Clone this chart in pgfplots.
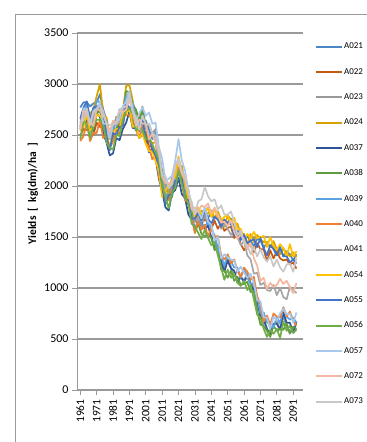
\documentclass[border=0pt]{standalone}
\usepackage{pgfplots}
\usepackage{pgfplotstable}
\pgfplotsset{compat=1.18}
\usepackage{fontspec}
\setmainfont{Carlito}
\definecolor{cA021}{HTML}{4A86C5}
\definecolor{cA022}{HTML}{C55A11}
\definecolor{cA023}{HTML}{999999}
\definecolor{cA024}{HTML}{D6A200}
\definecolor{cA037}{HTML}{2F5597}
\definecolor{cA038}{HTML}{5E9C3E}
\definecolor{cA039}{HTML}{5BA3E0}
\definecolor{cA040}{HTML}{F08030}
\definecolor{cA041}{HTML}{A5A5A5}
\definecolor{cA054}{HTML}{FFC000}
\definecolor{cA055}{HTML}{4472C4}
\definecolor{cA056}{HTML}{70AD47}
\definecolor{cA057}{HTML}{A9C8EC}
\definecolor{cA072}{HTML}{F4B7A0}
\definecolor{cA073}{HTML}{C8C8C8}
\definecolor{gridc}{HTML}{9A9A9A}
\pgfplotstableread{
yr A021 A022 A023 A024 A037 A038 A039 A040 A041 A054 A055 A056 A057 A072 A073
1961 2770 2490 2650 2560 2580 2580 2620 2440 2590 2540 2660 2460 2560 2550 2640
1963 2820 2560 2660 2750 2610 2600 2700 2490 2730 2580 2770 2640 2760 2740 2640
1965 2820 2550 2730 2730 2650 2710 2800 2620 2660 2700 2830 2600 2750 2710 2760
1967 2780 2540 2530 2710 2570 2550 2660 2440 2660 2540 2650 2470 2600 2630 2610
1969 2810 2500 2680 2750 2540 2550 2660 2520 2630 2580 2770 2590 2740 2590 2720
1971 2820 2620 2690 2880 2710 2710 2840 2520 2790 2700 2780 2650 2750 2760 2750
1973 2900 2580 2810 3000 2680 2740 2820 2650 2780 2690 2770 2650 2820 2740 2790
1975 2750 2560 2640 2710 2510 2560 2720 2470 2660 2640 2710 2610 2610 2700 2730
1977 2650 2460 2600 2670 2430 2640 2530 2500 2630 2500 2490 2430 2610 2610 2610
1979 2470 2460 2550 2480 2300 2480 2520 2370 2470 2380 2350 2370 2460 2530 2600
1981 2630 2480 2550 2520 2320 2580 2530 2440 2620 2530 2520 2360 2610 2640 2600
1983 2620 2530 2680 2660 2470 2550 2660 2530 2600 2560 2500 2500 2610 2620 2620
1985 2750 2620 2660 2700 2450 2690 2660 2510 2620 2560 2580 2490 2660 2750 2750
1987 2760 2610 2690 2740 2560 2710 2730 2660 2750 2710 2580 2650 2780 2720 2770
1989 2860 2790 2860 2980 2620 2930 2880 2700 2770 2710 2810 2740 2830 2750 2780
1991 2920 2740 2870 2990 2730 2920 2830 2690 2740 2760 2770 2760 2930 2850 2900
1993 2750 2610 2720 2840 2570 2800 2810 2670 2740 2580 2750 2700 2760 2730 2730
1995 2740 2600 2730 2660 2560 2750 2650 2560 2580 2580 2610 2540 2640 2590 2670
1997 2630 2540 2650 2710 2470 2640 2580 2470 2570 2470 2570 2580 2710 2650 2550
1999 2630 2520 2780 2630 2500 2740 2690 2600 2520 2510 2640 2540 2770 2610 2690
2001 2640 2530 2590 2580 2470 2570 2590 2420 2600 2410 2460 2460 2690 2610 2600
2003 2550 2390 2610 2460 2330 2470 2470 2380 2470 2340 2470 2470 2720 2460 2610
2005 2460 2380 2510 2420 2370 2510 2530 2260 2510 2340 2360 2410 2610 2510 2520
2007 2530 2270 2560 2430 2270 2460 2430 2320 2430 2240 2300 2330 2620 2420 2490
2009 2290 2190 2340 2190 2070 2240 2290 2090 2260 2150 2210 2260 2380 2330 2360
2011 2130 1940 2150 2080 1950 2150 2020 1980 2110 1890 2000 2000 2270 2090 2100
2013 1880 2010 2040 1980 1790 1910 1930 1890 1970 1960 1820 1890 2050 2030 2100
2015 1930 1920 1930 1910 1760 1900 1870 1860 2010 2000 1910 1780 2070 2030 1980
2017 1940 1990 2080 2060 1930 1890 2020 1970 2010 2050 1920 1940 2100 2030 2020
2019 2120 2130 2110 2140 1960 2080 2070 2000 2080 2100 2050 1980 2250 2210 2200
2021 2160 2150 2170 2180 2080 2110 2170 2170 2250 2290 2060 2150 2460 2230 2270
2023 2080 2150 2170 2200 1920 2110 2130 2020 2150 2140 2070 2020 2250 2120 2140
2025 1990 1950 2020 2000 1880 1930 1930 1860 1970 2040 1880 1890 2150 2070 2110
2027 1820 1820 1870 1930 1720 1830 1910 1840 1970 1860 1860 1830 1950 1950 1940
2029 1770 1770 1840 1720 1670 1740 1710 1690 1770 1820 1680 1630 1790 1770 1840
2031 1680 1660 1650 1740 1600 1540 1570 1540 1720 1690 1680 1600 1750 1790 1720
2033 1670 1630 1700 1700 1620 1630 1670 1660 1660 1790 1740 1540 1750 1750 1850
2035 1730 1710 1600 1760 1640 1530 1630 1570 1750 1720 1660 1480 1680 1810 1870
2037 1740 1660 1720 1740 1580 1510 1600 1620 1730 1750 1760 1570 1790 1790 1990
2039 1680 1680 1610 1730 1610 1530 1650 1500 1790 1780 1680 1490 1650 1830 1900
2041 1760 1580 1610 1760 1500 1490 1570 1590 1700 1700 1630 1420 1620 1730 1850
2043 1680 1660 1480 1680 1400 1370 1520 1490 1680 1770 1700 1450 1470 1790 1870
2045 1700 1580 1400 1750 1420 1400 1380 1510 1700 1690 1670 1320 1500 1720 1770
2047 1600 1640 1290 1670 1250 1180 1320 1320 1580 1650 1600 1200 1290 1640 1810
2049 1670 1560 1180 1600 1160 1170 1220 1280 1630 1700 1670 1080 1330 1650 1720
2051 1640 1590 1290 1710 1270 1100 1320 1330 1580 1710 1630 1180 1300 1610 1720
2053 1680 1600 1210 1670 1190 1170 1260 1240 1520 1630 1630 1100 1280 1660 1750
2055 1590 1490 1120 1570 1170 1070 1200 1280 1560 1690 1510 1140 1270 1550 1650
2057 1550 1530 1170 1630 1050 1110 1200 1170 1500 1580 1560 1050 1160 1480 1520
2059 1560 1430 1110 1530 1110 1030 1100 1110 1420 1580 1470 1020 1210 1530 1560
2061 1460 1370 1070 1530 1060 1040 1190 1200 1460 1470 1520 1070 1150 1470 1440
2063 1510 1420 1150 1420 1120 1060 1100 1160 1320 1530 1440 980 1100 1380 1420
2065 1460 1420 1050 1530 1040 960 1040 1080 1280 1490 1460 1030 1140 1440 1330
2067 1410 1350 1010 1450 970 970 1050 1110 1140 1550 1480 890 1050 1290 1400
2069 1480 1440 810 1520 890 780 910 920 1150 1490 1400 740 880 1220 1310
2071 1470 1380 790 1480 710 640 750 840 1030 1500 1490 710 870 1070 1380
2073 1390 1380 640 1450 700 630 760 670 1050 1510 1390 600 710 1100 1300
2075 1450 1260 690 1450 600 580 660 730 980 1400 1320 520 710 990 1260
2077 1400 1370 610 1400 540 520 660 640 970 1500 1420 590 600 1050 1310
2079 1410 1290 630 1460 650 630 610 750 1030 1410 1380 550 720 1010 1210
2081 1320 1360 680 1380 650 580 720 720 930 1370 1320 600 680 1030 1280
2083 1390 1290 590 1330 590 600 650 710 1000 1430 1400 510 750 1090 1200
2085 1310 1270 730 1390 760 590 810 810 910 1390 1310 670 800 1040 1160
2087 1360 1280 620 1340 660 650 720 720 890 1310 1310 580 740 1070 1230
2089 1330 1230 550 1310 660 560 690 770 1010 1430 1250 630 750 1010 1240
2091 1270 1250 610 1350 560 620 710 680 980 1310 1280 560 660 950 1160
2093 1330 1190 590 1300 670 600 660 630 950 1360 1240 590 760 1050 1290
}\data
\begin{document}
\begin{tikzpicture}[x=1bp,y=1bp]
\useasboundingbox (0,0) rectangle (366,442);
\draw[gridc, line width=0.8bp] (15,-5) -- (15,428) -- (371,428);
\begin{axis}[
  at={(77bp,52bp)}, anchor=origin,
  scale only axis, width=226bp, height=357bp,
  xmin=1959, xmax=2097, ymin=0, ymax=3500,
  axis x line*=bottom, axis y line*=left,
  axis line style={draw=gridc, line width=1bp},
  xtick={1961,1971,...,2091},
  ytick={0,500,...,3500},
  xticklabel style={rotate=90, anchor=east, font=\fontsize{11.5}{12}\selectfont, xshift=-1bp},
  yticklabel style={font=\fontsize{12}{13}\selectfont},
  /pgf/number format/assume math mode=true,
  x tick label style={/pgf/number format/1000 sep={}},
  y tick label style={/pgf/number format/1000 sep={}},
  tick align=outside, major tick length=5bp,
  tick style={draw=gridc, line width=0.8bp},
  ymajorgrids, grid style={draw=gridc, line width=1.2bp},
  ylabel={\bfseries Yields\ \ [\ \ kg(dm)/ha\ \ ]},
  ylabel style={at={(rel axis cs:-0.195,0.55)}, anchor=center, font=\fontsize{11.5}{12}\selectfont},
  legend style={draw=none, fill=none, at={(1.053,0.975)}, anchor=north west,
    font=\fontsize{9}{9.5}\selectfont, row sep=16bp, inner sep=0pt,
    nodes={inner sep=1bp}},
  legend cell align=left,
  legend image code/.code={\draw[#1, line width=2bp] (0bp,0bp) -- (26bp,0bp);},
  every axis plot/.append style={line width=1.7bp, line join=round},
]
\addplot[cA021] table[x=yr,y=A021]{\data};
\addplot[cA022] table[x=yr,y=A022]{\data};
\addplot[cA023] table[x=yr,y=A023]{\data};
\addplot[cA024] table[x=yr,y=A024]{\data};
\addplot[cA037] table[x=yr,y=A037]{\data};
\addplot[cA038] table[x=yr,y=A038]{\data};
\addplot[cA039] table[x=yr,y=A039]{\data};
\addplot[cA040] table[x=yr,y=A040]{\data};
\addplot[cA041] table[x=yr,y=A041]{\data};
\addplot[cA054] table[x=yr,y=A054]{\data};
\addplot[cA055] table[x=yr,y=A055]{\data};
\addplot[cA056] table[x=yr,y=A056]{\data};
\addplot[cA057] table[x=yr,y=A057]{\data};
\addplot[cA072] table[x=yr,y=A072]{\data};
\addplot[cA073] table[x=yr,y=A073]{\data};
\legend{A021,A022,A023,A024,A037,A038,A039,A040,A041,A054,A055,A056,A057,A072,A073}
\end{axis}
\end{tikzpicture}
\end{document}
